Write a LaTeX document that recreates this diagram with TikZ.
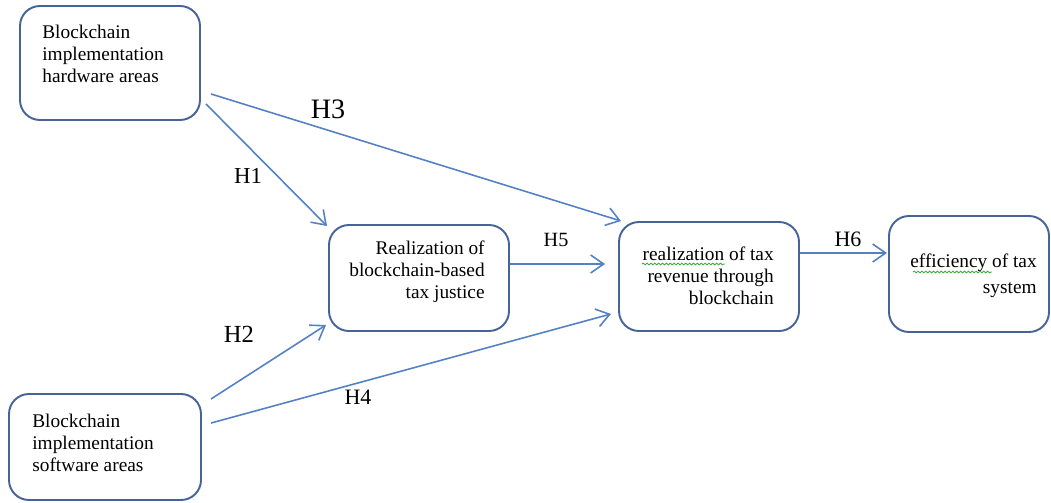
\documentclass[tikz,border=0pt]{standalone}
\usepackage{fontspec}
\setmainfont{Liberation Serif}
\usepackage{xcolor}
\usetikzlibrary{positioning,calc,arrows.meta,decorations.pathmorphing}

\definecolor{boxline}{RGB}{70,100,152}
\definecolor{arrowline}{RGB}{84,128,196}
\definecolor{spellgreen}{RGB}{60,170,60}

\tikzset{
  area/.style={draw=boxline, line width=1.1pt, rounded corners=0.4cm, inner sep=0pt},
  areatext/.style={font=\fontsize{11}{12.5}\selectfont, inner sep=0pt},
  hyp/.style={draw=arrowline, line width=0.9pt, -{Straight Barb[length=2.6mm,width=3.6mm]}},
  hlabel/.style={inner sep=0pt},
  spell/.style={draw=spellgreen, line width=0.5pt, decorate, decoration={snake, amplitude=0.5pt, segment length=2.2pt}}
}

\begin{document}
\begin{tikzpicture}
    \useasboundingbox (0,0) rectangle (21.02,10.04);

    % Boxes
    \node[area, minimum width=3.6cm, minimum height=2.28cm] (hw) at (2.2,8.78) {};
    \node[area, minimum width=3.84cm, minimum height=2.12cm] (sw) at (2.1,1.1) {};
    \node[area, minimum width=3.6cm, minimum height=2.12cm] (just) at (8.38,4.48) {};
    \node[area, minimum width=3.6cm, minimum height=2.18cm] (rev) at (14.18,4.51) {};
    \node[area, minimum width=3.2cm, minimum height=2.32cm] (eff) at (19.38,4.56) {};

    % Box texts
    \node[areatext, align=left, anchor=west] (hwtxt) at (0.84,8.96) {Blockchain\\implementation\\hardware areas};
    \node[areatext, align=left, anchor=west] (swtxt) at (0.64,1.18) {Blockchain\\implementation\\software areas};
    \node[areatext, align=right, anchor=east] (justtxt) at (9.7,4.61) {Realization of\\blockchain-based\\tax justice};
    \node[areatext, align=right, anchor=east] (revtxt) at (15.48,4.52) {realization of tax\\revenue through\\blockchain};
    \node[areatext, font=\fontsize{11}{14.7}\selectfont, align=right, anchor=east] (efftxt) at (20.74,4.52) {efficiency of tax\\system};

    % spelling marks
    \draw[spell] (12.84,4.76) -- (14.5,4.76);
    \draw[spell] (18.26,4.6) -- (19.84,4.6);

    % Hypotheses
    \draw[hyp] ([shift={(0.1,0.34)}]hw.south east) -- ([shift={(-0.02,-0.04)}]just.north west);
    \draw[hyp] ([shift={(0.2,0.54)}]hw.south east) -- ([shift={(0.06,0)}]rev.north west);
    \draw[hyp] ([shift={(0.18,-0.12)}]sw.north east) -- ([shift={(-0.04,0.14)}]just.south west);
    \draw[hyp] ([shift={(0.18,-0.6)}]sw.north east) -- ([shift={(-0.14,0.36)}]rev.south west);
    \draw[hyp] ([yshift=0.28cm]just.east) -- ([shift={(-0.26,0.25)}]rev.west);
    \draw[hyp] ([yshift=0.47cm]rev.east) -- ([shift={(-0.02,0.42)}]eff.west);

    \node[hlabel, font=\fontsize{13}{13}\selectfont] (h1) at (4.96,6.52) {H1};
    \node[hlabel, font=\fontsize{14}{14}\selectfont] (h2) at (4.78,3.36) {H2};
    \node[hlabel, font=\fontsize{16}{16}\selectfont] (h3) at (6.56,7.85) {H3};
    \node[hlabel, font=\fontsize{12.5}{12.5}\selectfont] (h4) at (7.16,2.1) {H4};
    \node[hlabel, font=\fontsize{11.5}{11.5}\selectfont] (h5) at (11.12,5.24) {H5};
    \node[hlabel, font=\fontsize{12.5}{12.5}\selectfont] (h6) at (16.96,5.26) {H6};
\end{tikzpicture}
\end{document}
